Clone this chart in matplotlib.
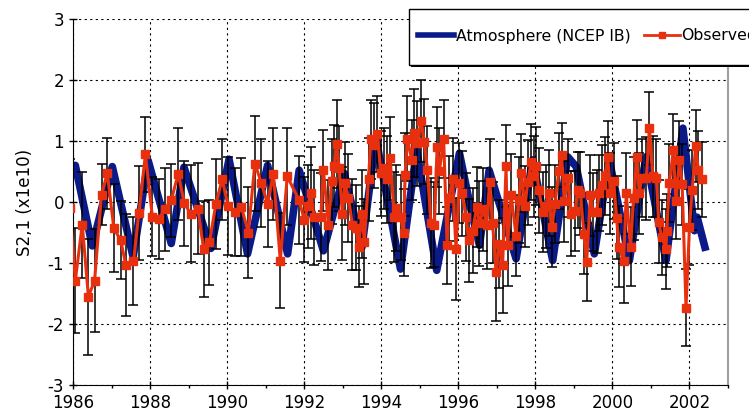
import numpy as np
import matplotlib
matplotlib.use("Agg")
import matplotlib.pyplot as plt
from matplotlib.patches import Rectangle
from matplotlib.lines import Line2D

plt.rcParams["font.family"] = "DejaVu Sans"
plt.rcParams["axes.unicode_minus"] = False

# Atmosphere (NCEP IB): turning points
atm_t = [1986.00, 1986.06, 1986.50, 1987.02, 1987.56, 1987.95, 1988.55, 1988.88,
         1989.58, 1990.05, 1990.53, 1991.05, 1991.57, 1991.87, 1992.50, 1993.04,
         1993.50, 1993.86, 1994.50, 1994.92, 1995.44, 1996.03, 1996.32, 1996.55,
         1996.80, 1997.50, 1997.93, 1998.45, 1998.84, 1999.06, 1999.53, 1999.92,
         2000.44, 2000.87, 2001.39, 2001.83, 2002.13, 2002.20, 2002.40]
atm_v = [0.50, 0.60, -0.72, 0.58, -0.90, 0.68, -0.68, 0.57,
         -0.76, 0.70, -0.85, 0.60, -0.85, 0.52, -0.80, 0.47,
         -0.74, 1.05, -1.10, 0.85, -1.12, 0.80, -0.10, -0.71,
         0.52, -0.93, 0.69, -0.96, 0.74, 0.58, -0.85, 0.69,
         -0.96, 0.74, -0.96, 1.21, -0.47, -0.25, -0.74]

# Observed
obs_t = [1985.92,
         1986.06, 1986.24, 1986.40, 1986.56, 1986.74, 1986.89, 1987.06, 1987.24,
         1987.37, 1987.57, 1987.71, 1987.88, 1988.06, 1988.23, 1988.38, 1988.55,
         1988.73, 1988.89, 1989.05, 1989.24, 1989.39, 1989.54, 1989.71, 1989.87,
         1990.03, 1990.21, 1990.37, 1990.55, 1990.72, 1990.89, 1991.05, 1991.20,
         1991.38, 1991.56,
         1991.87, 1992.00, 1992.09, 1992.17, 1992.26, 1992.43, 1992.50, 1992.63,
         1992.71, 1992.78, 1992.84, 1992.91, 1992.99, 1993.06, 1993.15, 1993.25,
         1993.34, 1993.41, 1993.50, 1993.56, 1993.67, 1993.73, 1993.82, 1993.90,
         1993.99, 1994.08, 1994.16, 1994.23, 1994.34, 1994.38,
         1994.51, 1994.58, 1994.62, 1994.68, 1994.79, 1994.86, 1994.94, 1995.03,
         1995.12, 1995.20, 1995.29, 1995.38, 1995.45, 1995.51, 1995.62, 1995.71,
         1995.75, 1995.85, 1995.94, 1996.03, 1996.10, 1996.20, 1996.27, 1996.37,
         1996.48, 1996.55, 1996.65, 1996.74, 1996.81, 1996.89, 1996.98, 1997.06,
         1997.15, 1997.24, 1997.28,
         1997.37, 1997.50, 1997.57, 1997.64, 1997.73, 1997.80, 1997.89, 1997.97,
         1998.02, 1998.09, 1998.19, 1998.28, 1998.35, 1998.42, 1998.51, 1998.61,
         1998.68, 1998.75, 1998.84, 1998.93, 1999.03, 1999.10, 1999.17, 1999.26,
         1999.33, 1999.43, 1999.49, 1999.59, 1999.66, 1999.73, 1999.80, 1999.88,
         1999.95, 2000.03, 2000.11, 2000.16,
         2000.29, 2000.36, 2000.47, 2000.55, 2000.63, 2000.70, 2000.76, 2000.88,
         2000.96, 2001.05, 2001.14, 2001.20, 2001.28, 2001.39, 2001.41, 2001.48,
         2001.58, 2001.65, 2001.74, 2001.81, 2001.91, 2002.00, 2002.07, 2002.16,
         2002.23, 2002.32]
obs_v = [-0.10,
         -1.29, -0.37, -1.55, -1.29, 0.12, 0.47, -0.43, -0.63,
         -1.03, -0.97, -0.18, 0.78, -0.24, -0.28, -0.12, 0.03,
         0.46, -0.02, -0.19, -0.11, -0.77, -0.66, -0.03, 0.37,
         -0.07, -0.16, -0.08, -0.50, 0.63, 0.31, -0.03, 0.46,
         -0.96, 0.42,
         0.03, -0.29, -0.07, 0.15, -0.25, -0.25, 0.52, -0.38,
         0.34, 0.59, 0.95, 0.55, -0.19, 0.31, 0.06, -0.37,
         -0.42, -0.73, -0.19, -0.65, 0.37, 1.03, 0.93, 1.12,
         0.47, 0.55, 0.37, 0.72, -0.24, -0.10,
         -0.25, -0.50, 0.45, 1.04, 0.69, 1.13, 0.96, 1.33,
         0.99, 0.52, -0.34, -0.37, 0.90, 0.51, 1.03, -0.71,
         0.06, 0.37, -0.77, 0.31, 0.14, -0.25, -0.63, -0.47,
         -0.08, -0.35, -0.12, -0.38, 0.33, -0.34, -1.15, -0.69,
         -1.04, 0.59, -0.71,
         0.11, -0.55, 0.03, 0.47, -0.07, 0.32, 0.66, 0.42,
         0.59, 0.19, -0.16, -0.07, 0.15, -0.41, -0.03, 0.51,
         0.77, 0.01, 0.39, -0.19, -0.15, 0.20, 0.14, -0.52,
         -0.99, 0.11, -0.16, -0.16, 0.15, 0.28, 0.42, 0.73,
         0.14, 0.34, -0.26, -0.73,
         -0.96, 0.14, -0.73, 0.06, 0.73, 0.14, 0.39, 0.39,
         1.21, 0.42, 0.40, -0.32, -0.58, -0.77, -0.47, 0.31,
         0.85, 0.01, 0.69, 0.29, -1.73, -0.41, 0.20, 0.92,
         0.52, 0.37]
obs_err = [0.80,
           0.86, 0.87, 0.95, 0.84, 0.50, 0.58, 0.72, 0.64,
           0.84, 0.72, 0.77, 0.62, 0.65, 0.65, 0.68, 0.60,
           0.76, 0.70, 0.80, 0.75, 0.78, 0.70, 0.74, 0.67,
           0.80, 0.72, 0.80, 0.75, 0.78, 0.72, 0.70, 0.75,
           0.78, 0.80,
           0.72, 0.70, 0.68, 0.75, 0.78, 0.72, 0.66, 0.74,
           0.70, 0.68, 0.72, 0.70, 0.76, 0.68, 0.72, 0.74,
           0.70, 0.66, 0.72, 0.70, 0.68, 0.65, 0.70, 0.62,
           0.70, 0.66, 0.72, 0.68, 0.74, 0.70,
           0.70, 0.72, 0.68, 0.70, 0.66, 0.72, 0.70, 0.67,
           0.70, 0.72, 0.74, 0.70, 0.66, 0.70, 0.64, 0.63,
           0.70, 0.68, 0.83, 0.66, 0.70, 0.72, 0.68, 0.70,
           0.66, 0.70, 0.68, 0.72, 0.70, 0.66, 0.80, 0.72,
           0.78, 0.68, 0.66,
           0.68, 0.66, 0.70, 0.64, 0.66, 0.70, 0.62, 0.66,
           0.64, 0.70, 0.66, 0.68, 0.70, 0.66, 0.64, 0.62,
           0.52, 0.66, 0.64, 0.70, 0.66, 0.62, 0.68, 0.66,
           0.64, 0.66, 0.64, 0.68, 0.62, 0.66, 0.64, 0.60,
           0.66, 0.62, 0.68, 0.66,
           0.70, 0.66, 0.64, 0.68, 0.62, 0.66, 0.64, 0.68,
           0.60, 0.66, 0.64, 0.68, 0.62, 0.66, 0.60, 0.64,
           0.60, 0.62, 0.64, 0.66, 0.63, 0.62, 0.66, 0.59,
           0.64, 0.62]

x_ticks = list(range(1986, 2003, 2))
y_ticks = list(range(-3, 4))

blue = "#0a1a88"
red = "#e8300e"

fig = plt.figure(figsize=(7.49, 4.17), dpi=100)
ax = fig.add_axes([73 / 749, 1 - 385 / 417, (728 - 73) / 749, (385 - 19) / 417])

ax.plot(atm_t, atm_v, color=blue, lw=5.5, solid_joinstyle="round", zorder=2)
ax.errorbar(obs_t, obs_v, yerr=obs_err, fmt="none", ecolor="black",
            elinewidth=1.1, capsize=3.6, capthick=1.1, zorder=3)
ax.plot(obs_t, obs_v, color=red, lw=2.2, marker="s", ms=5.3, mec=red, zorder=4)

ax.set_xlim(1986, 2003)
ax.set_ylim(-3, 3)
ax.set_xticks(x_ticks)
ax.set_xticks(range(1986, 2004), minor=True)
ax.set_yticks(y_ticks)
ax.tick_params(axis="both", labelsize=12, direction="inout", length=6, width=1)
ax.tick_params(axis="x", which="minor", direction="out", length=2.5, width=1)
ax.grid(True, which="major", color="black", ls=(0, (2, 3)), lw=0.8)
ax.set_axisbelow(True)
ax.spines["top"].set_visible(False)
ax.spines["right"].set_color("#a0a0a0")
ax.spines["right"].set_linewidth(1.5)
ax.set_ylabel("S2,1 (x1e10)", fontsize=12, labelpad=10)

# legend box with shadow, running off the right edge as in the original
shadow = Rectangle((411 / 749, 1 - 67 / 417), 400 / 749, 57 / 417,
                   transform=fig.transFigure, facecolor="black", edgecolor="none", zorder=5)
box = Rectangle((409 / 749, 1 - 65 / 417), 400 / 749, 56 / 417,
                transform=fig.transFigure, facecolor="white", edgecolor="black",
                lw=1, zorder=5.5)
fig.add_artist(shadow)
fig.add_artist(box)

handles = [Line2D([], [], color=blue, lw=4),
           Line2D([], [], color=red, lw=2, marker="s", ms=5, mec=red)]
leg = fig.legend(handles, ["Atmosphere (NCEP IB)", "Observed"], loc="center left",
                 bbox_to_anchor=(410 / 749, 1 - 36 / 417), bbox_transform=fig.transFigure,
                 frameon=False, ncol=2, fontsize=11.3, borderpad=0, handlelength=2.3,
                 handletextpad=0.1, columnspacing=0.85)
leg.set_zorder(6)

fig.savefig("out.png", dpi=100)
